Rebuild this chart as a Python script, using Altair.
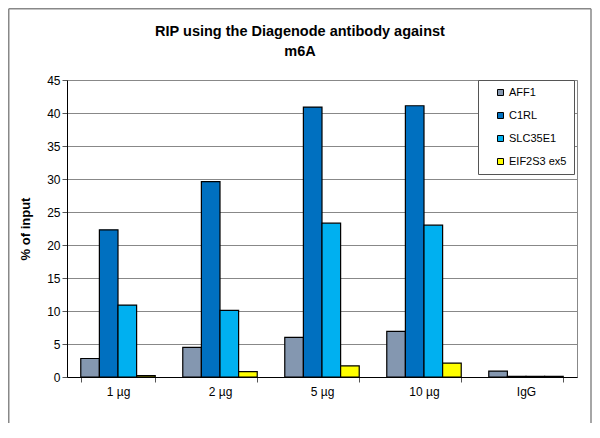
import altair as alt
import pandas as pd

categories = ["1 µg", "2 µg", "5 µg", "10 µg", "IgG"]
series = ["AFF1", "C1RL", "SLC35E1", "EIF2S3 ex5"]
aff1 = [2.8, 4.5, 6.0, 6.9, 0.9]
c1rl = [22.3, 29.6, 40.9, 41.1, 0.1]
slc35e1 = [10.9, 10.1, 23.3, 23.0, 0.1]
eif2s3 = [0.2, 0.8, 1.7, 2.1, 0.1]
colors = ["#8497B0", "#0070C0", "#00B0F0", "#FFFF00"]
title_lines = ["RIP using the Diagenode antibody against", "m6A"]

rows = []
for s, vals in zip(series, [aff1, c1rl, slc35e1, eif2s3]):
    for c, v in zip(categories, vals):
        rows.append({"cat": c, "series": s, "value": v})
df = pd.DataFrame(rows)

FONT = "Liberation Sans"

bars = alt.Chart(df).mark_bar(stroke="black", strokeWidth=1.2).encode(
    x=alt.X("cat:N", sort=categories, title=None,
            scale=alt.Scale(paddingInner=0.27, paddingOuter=0.135),
            axis=alt.Axis(labelAngle=0, tickBand="extent", domainColor="black",
                          tickColor="#555", tickSize=5, labelFontSize=12,
                          labelPadding=4, grid=False, labelColor="black")),
    xOffset=alt.XOffset("series:N", sort=series, scale=alt.Scale(paddingInner=0.0)),
    y=alt.Y("value:Q", title="% of input",
            scale=alt.Scale(domain=[0, 45]),
            axis=alt.Axis(values=list(range(0, 50, 5)), domainColor="black",
                          tickColor="#555", tickSize=5, labelFontSize=12,
                          gridColor="#888", gridWidth=1, labelColor="black",
                          titleFontSize=13, titleFontWeight="bold", titlePadding=14)),
    color=alt.Color("series:N", sort=series,
                    scale=alt.Scale(domain=series, range=colors),
                    legend=alt.Legend(title=None, orient="none", legendX=411, legendY=0,
                                      symbolType="square", symbolSize=36,
                                      symbolStrokeColor="black", symbolStrokeWidth=1,
                                      symbolOffset=10,
                                      labelFontSize=11, rowPadding=11, labelOffset=3,
                                      padding=7, strokeColor="#555",
                                      fillColor="white", labelColor="black")),
)

one = pd.DataFrame({"k": [0]})
rule_style = dict(color="#888", strokeWidth=1.5)
frame_l = alt.Chart(one).mark_rule(**rule_style).encode(
    x=alt.value(-58.25), y=alt.value(-71.25), y2=alt.value(343))
frame_r = alt.Chart(one).mark_rule(**rule_style).encode(
    x=alt.value(524), y=alt.value(-71.25), y2=alt.value(343))
frame_t = alt.Chart(one).mark_rule(**rule_style).encode(
    x=alt.value(-58.25), x2=alt.value(524), y=alt.value(-71.25))

t1 = alt.Chart(one).mark_text(fontSize=14.5, fontWeight="bold", font=FONT,
                              align="center", baseline="middle", color="black").encode(
    x=alt.value(233), y=alt.value(-48), text=alt.value(title_lines[0]))
t2 = alt.Chart(one).mark_text(fontSize=14.5, fontWeight="bold", font=FONT,
                              align="center", baseline="middle", color="black").encode(
    x=alt.value(233), y=alt.value(-28), text=alt.value(title_lines[1]))

chart = alt.layer(bars, frame_l, frame_r, frame_t, t1, t2).properties(
    width=510, height=297,
    autosize=alt.AutoSizeParams(type="none"),
    padding={"left": 59, "top": 72, "right": 15, "bottom": 50},
).configure(font=FONT).configure_view(stroke="#888", strokeWidth=1)

chart.save("out.html", embed_options={"renderer": "svg", "actions": False})
